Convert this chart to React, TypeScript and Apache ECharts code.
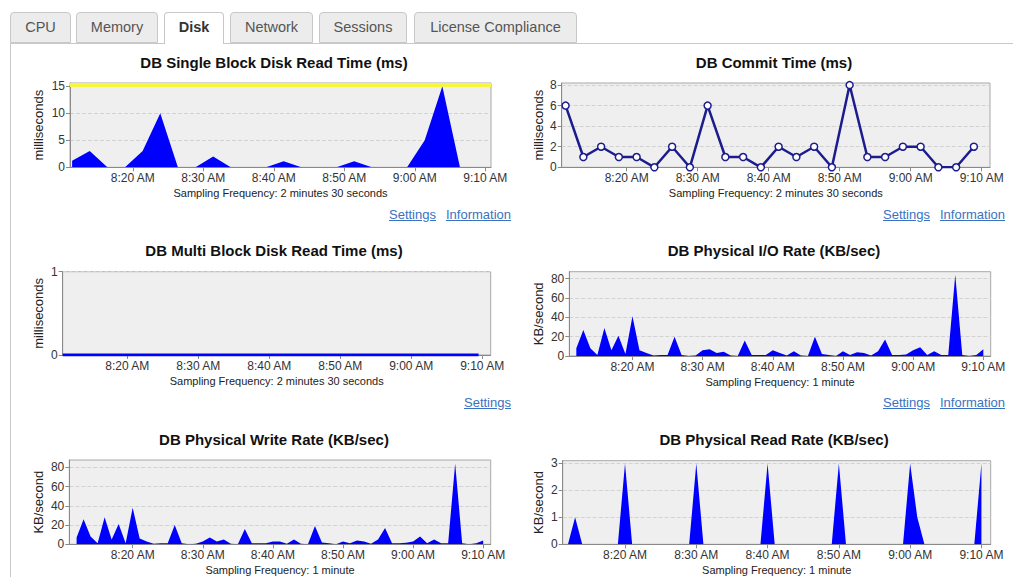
import React, { useEffect, useRef } from "react";
import * as echarts from "echarts";

const FONT = '"Liberation Sans", Arial, Helvetica, sans-serif';

// ---------- data ----------
const TAB_NAMES = ["CPU", "Memory", "Disk", "Network", "Sessions", "License Compliance"];
const ACTIVE_TAB = "Disk";

// x values are minutes after 8:00 AM
const TICK_MINUTES = [20, 30, 40, 50, 60, 70];

const SAMPLE_TIMES_2M30 = [
  11.4, 13.9, 16.4, 18.9, 21.4, 23.9, 26.4, 28.9, 31.4, 33.9, 36.4, 38.9,
  41.4, 43.9, 46.4, 48.9, 51.4, 53.9, 56.4, 58.9, 61.4, 63.9, 66.4, 68.9,
];
const SAMPLE_TIMES_1M = [
  12, 13, 14, 15, 16, 17, 18, 19, 20, 21, 22, 23, 24, 25, 26, 27, 28, 29, 30,
  31, 32, 33, 34, 35, 36, 37, 38, 39, 40, 41, 42, 43, 44, 45, 46, 47, 48, 49,
  50, 51, 52, 53, 54, 55, 56, 57, 58, 59, 60, 61, 62, 63, 64, 65, 66, 67, 68,
  69, 70,
];

const singleBlockMs = [1.2, 3, 0, 0, 3, 10, 0, 0, 2, 0, 0, 0, 1.1, 0, 0, 0, 1.1, 0, 0, 0, 5, 15, 0, 0];
const SINGLE_BLOCK_THRESHOLD = 15.3;
const commitMs = [6, 1, 2, 1, 1, 0, 2, 0, 6, 1, 1, 0, 2, 1, 2, 0, 8, 1, 1, 2, 2, 0, 0, 2];
const multiBlockTimes = [10.9, 13.9, 16.4, 18.9, 21.4, 23.9, 26.4, 28.9, 31.4, 33.9, 36.4, 38.9,
  41.4, 43.9, 46.4, 48.9, 51.4, 53.9, 56.4, 58.9, 61.4, 63.9, 66.4, 69.5];
const multiBlockMs = [0, 0, 0, 0, 0, 0, 0, 0, 0, 0, 0, 0, 0, 0, 0, 0, 0, 0, 0, 0, 0, 0, 0, 0];
const ioRateKB = [
  8, 27, 8, 1, 29, 6, 21, 2, 41, 6, 3, 0.5, 1, 1, 20, 1, 0, 0.5, 6, 7, 3, 4.5,
  0.5, 0, 16, 1, 1, 1, 6, 3, 0.5, 5, 0.5, 0, 20, 2, 1, 0, 5, 1, 4, 3, 0.5, 5,
  17, 1, 1, 1.5, 6, 9, 1, 5, 1, 1, 84, 1, 0, 1, 7,
];
const writeRateKB = [
  7, 26, 8, 1, 28, 5, 21, 1, 38, 6, 3, 0.5, 1, 1, 20, 1, 0, 0.5, 3, 7, 3, 5,
  0.5, 0, 16, 1, 1, 1, 3, 3, 0.5, 5, 0.5, 0, 19, 2, 1, 0, 3, 1, 4, 3, 0.5, 5,
  17, 1, 1, 1.5, 3, 8, 1, 5, 1, 1, 84, 1, 0, 1, 4,
];
const readRateKB = [
  0, 1, 0, 0, 0, 0, 0, 0, 3, 0, 0, 0, 0, 0, 0, 0, 0, 0, 3, 0, 0, 0, 0, 0, 0,
  0, 0, 0, 3, 0, 0, 0, 0, 0, 0, 0, 0, 0, 3, 0, 0, 0, 0, 0, 0, 0, 0, 0, 3, 1,
  0, 0, 0, 0, 0, 0, 0, 0, 3,
];

const SAMPLING_2M30 = "Sampling Frequency: 2 minutes 30 seconds";
const SAMPLING_1M = "Sampling Frequency: 1 minute";

// ---------- layout ----------
type Kind = "area" | "line" | "flat";
interface ChartCfg {
  title: string;
  yName: string;
  sampling: string;
  xs: number[];
  ys: number[];
  kind: Kind;
  yMax: number;
  yTicks: number[];
  yInterval: number;
  xMin: number;
  xMax: number;
  box: [number, number, number, number];
  grid: [number, number, number, number];
  titleY: number;
  threshold?: number;
}

const CHARTS: ChartCfg[] = [
  {
    title: "DB Single Block Disk Read Time (ms)", yName: "milliseconds", sampling: SAMPLING_2M30,
    xs: SAMPLE_TIMES_2M30, ys: singleBlockMs, kind: "area", yMax: 15.6, yTicks: [0, 5, 10, 15], yInterval: 5,
    xMin: 11.1, xMax: 70.8, box: [18, 45, 500, 160], grid: [52, 38, 421, 84.3], titleY: 17.5,
    threshold: SINGLE_BLOCK_THRESHOLD,
  },
  {
    title: "DB Commit Time (ms)", yName: "milliseconds", sampling: SAMPLING_2M30,
    xs: SAMPLE_TIMES_2M30, ys: commitMs, kind: "line", yMax: 8.2, yTicks: [0, 2, 4, 6, 8], yInterval: 2,
    xMin: 10.85, xMax: 71.17, box: [518, 45, 495, 160], grid: [43.7, 38, 428.3, 84.3], titleY: 17.5,
  },
  {
    title: "DB Multi Block Disk Read Time (ms)", yName: "milliseconds", sampling: SAMPLING_2M30,
    xs: multiBlockTimes, ys: multiBlockMs, kind: "flat", yMax: 1, yTicks: [0, 1], yInterval: 1,
    xMin: 10.9, xMax: 71.2, box: [18, 233, 500, 160], grid: [44.7, 38.7, 428, 83.3], titleY: 17.8,
  },
  {
    title: "DB Physical I/O Rate (KB/sec)", yName: "KB/second", sampling: SAMPLING_1M,
    xs: SAMPLE_TIMES_1M, ys: ioRateKB, kind: "area", yMax: 87.2, yTicks: [0, 20, 40, 60, 80], yInterval: 20,
    xMin: 11.0, xMax: 71.05, box: [518, 233, 495, 160], grid: [51.3, 38.7, 421.4, 84.3], titleY: 17.8,
  },
  {
    title: "DB Physical Write Rate (KB/sec)", yName: "KB/second", sampling: SAMPLING_1M,
    xs: SAMPLE_TIMES_1M, ys: writeRateKB, kind: "area", yMax: 87.6, yTicks: [0, 20, 40, 60, 80], yInterval: 20,
    xMin: 10.96, xMax: 71.07, box: [18, 422, 500, 155], grid: [51.3, 38, 421.4, 84.3], titleY: 17.2,
  },
  {
    title: "DB Physical Read Rate (KB/sec)", yName: "KB/second", sampling: SAMPLING_1M,
    xs: SAMPLE_TIMES_1M, ys: readRateKB, kind: "area", yMax: 3.1, yTicks: [0, 1, 2, 3], yInterval: 1,
    xMin: 11.26, xMax: 71.3, box: [518, 422, 495, 155], grid: [44.7, 38.7, 428, 83.6], titleY: 17.2,
  },
];

const TAB_LAYOUT: [number, number][] = [
  [10, 61], [76, 82], [164, 60], [230, 83], [319, 88], [414, 163],
];

interface LinkCfg { text: string; left: number; top: number; }
const LINKS: LinkCfg[] = [
  { text: "Settings", left: 389, top: 207 },
  { text: "Information", left: 446, top: 207 },
  { text: "Settings", left: 883, top: 207 },
  { text: "Information", left: 940, top: 207 },
  { text: "Settings", left: 464, top: 395 },
  { text: "Settings", left: 883, top: 395 },
  { text: "Information", left: 940, top: 395 },
];

function fmtClock(m: number): string {
  const total = 8 * 60 + Math.round(m);
  const h = Math.floor(total / 60);
  const mm = total % 60;
  return `${h}:${mm < 10 ? "0" + mm : mm} AM`;
}

function buildOption(c: ChartCfg): any {
  const data = c.xs.map((x, i) => [x, c.ys[i]]);
  let series: any;
  if (c.kind === "area") {
    series = {
      type: "line", data, symbol: "none", showSymbol: false, silent: true,
      lineStyle: { width: 0, color: "#0000ff" },
      areaStyle: { color: "#0000ff", opacity: 1 },
    };
  } else if (c.kind === "line") {
    series = {
      type: "line", data, symbol: "circle", symbolSize: 7, showAllSymbol: true, silent: true,
      lineStyle: { width: 2.5, color: "#1c1c8e" },
      itemStyle: { color: "#ffffff", borderColor: "#1c1c8e", borderWidth: 1.5 },
    };
  } else {
    series = {
      type: "line", data, symbol: "none", showSymbol: false, silent: true,
      lineStyle: { width: 3, color: "#0000ff" },
    };
  }
  if (c.threshold !== undefined) {
    series.markLine = {
      symbol: "none", silent: true, label: { show: false },
      lineStyle: { color: "#f6f63c", width: 4, type: "solid" },
      data: [{ yAxis: c.threshold }],
    };
  }
  const nameGap = c.grid[0] - 26.5;
  return {
    animation: false,
    textStyle: { fontFamily: FONT },
    grid: {
      left: c.grid[0], top: c.grid[1], width: c.grid[2], height: c.grid[3],
      show: true, backgroundColor: "#efefef", borderColor: "#a8a8a8", borderWidth: 1,
      containLabel: false, outerBoundsMode: "none",
    },
    graphic: [
      {
        type: "text", x: 256, y: c.titleY, silent: true,
        style: {
          text: c.title, font: `bold 15px ${FONT}`, fill: "#111",
          align: "center", verticalAlign: "middle", textAlign: "center", textVerticalAlign: "middle",
        },
      },
    ],
    xAxis: {
      type: "value", min: c.xMin, max: c.xMax,
      name: c.sampling, nameLocation: "middle", nameGap: 20, nameMoveOverlap: false,
      nameTextStyle: { fontSize: 11, color: "#222", fontFamily: FONT },
      axisLine: { show: true, lineStyle: { color: "#8a8a8a" } },
      axisTick: { show: true, customValues: TICK_MINUTES, length: 4, lineStyle: { color: "#8a8a8a" } },
      axisLabel: {
        customValues: TICK_MINUTES, formatter: (v: number) => fmtClock(v),
        fontSize: 12, color: "#333", margin: 5, hideOverlap: false, fontFamily: FONT,
      },
      splitLine: { show: false },
    },
    yAxis: {
      type: "value", min: 0, max: c.yMax, interval: c.yInterval,
      name: c.yName, nameLocation: "middle", nameGap, nameRotate: 90, nameMoveOverlap: false,
      nameTextStyle: { fontSize: 13, color: "#222", fontFamily: FONT },
      axisLine: { show: true, lineStyle: { color: "#8a8a8a" } },
      axisTick: { show: true, customValues: c.yTicks, length: 4, lineStyle: { color: "#8a8a8a" } },
      axisLabel: {
        customValues: c.yTicks, formatter: (v: number) => String(v),
        fontSize: 12, color: "#333", margin: 5, fontFamily: FONT,
      },
      splitLine: { show: true, lineStyle: { color: "#d2d2d2", type: "dashed", width: 1 } },
    },
    series: [series],
  };
}

function Chart({ cfg }: { cfg: ChartCfg }) {
  const ref = useRef<HTMLDivElement>(null);
  useEffect(() => {
    if (!ref.current) return;
    const chart = echarts.init(ref.current, undefined, { renderer: "svg" });
    chart.setOption(buildOption(cfg));
    return () => chart.dispose();
  }, [cfg]);
  const [l, t, w, h] = cfg.box;
  return (
    <div
      ref={ref}
      style={{ position: "absolute", left: l, top: t, width: w, height: h, overflow: "hidden" }}
    />
  );
}

export default function App() {
  return (
    <div
      style={{
        position: "fixed", left: 0, top: 0, width: 1013, height: 577, overflow: "hidden",
        background: "#ffffff", fontFamily: FONT,
      }}
    >
      <div
        style={{
          position: "absolute", left: 10, top: 43, width: 1010, height: 600,
          borderTop: "1px solid #c8c8c8", borderLeft: "1px solid #c8c8c8", boxSizing: "border-box",
        }}
      />
      {TAB_NAMES.map((name, i) => {
        const [left, width] = TAB_LAYOUT[i];
        const active = name === ACTIVE_TAB;
        return (
          <div
            key={name}
            style={{
              position: "absolute", left, top: 12, width, height: active ? 32 : 31,
              boxSizing: "border-box", border: "1px solid #c8c8c8", borderBottom: active ? "none" : "1px solid #c8c8c8",
              borderRadius: "4px 4px 0 0", background: active ? "#ffffff" : "#ececec",
              color: active ? "#333" : "#555", fontWeight: active ? "bold" : "normal",
              fontSize: 14.5, lineHeight: "29px", textAlign: "center", zIndex: 2,
            }}
          >
            {name}
          </div>
        );
      })}
      {CHARTS.map((c) => (
        <Chart key={c.title} cfg={c} />
      ))}
      {LINKS.map((lk, i) => (
        <a
          key={i}
          href="#"
          onClick={(e) => e.preventDefault()}
          style={{
            position: "absolute", left: lk.left, top: lk.top, fontSize: 13, lineHeight: "16px",
            color: "#3a72c1", textDecoration: "underline", whiteSpace: "nowrap", zIndex: 3,
          }}
        >
          {lk.text}
        </a>
      ))}
    </div>
  );
}
